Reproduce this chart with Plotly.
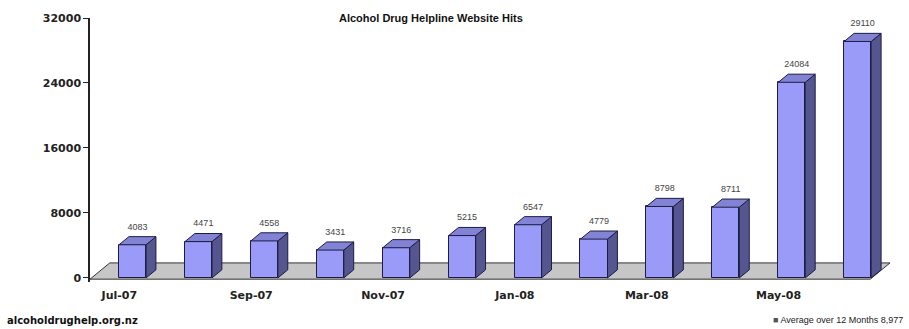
import plotly.graph_objects as go

# Monthly website hits, July 2007 - June 2008
months = ["Jul-07", "Aug-07", "Sep-07", "Oct-07", "Nov-07", "Dec-07",
          "Jan-08", "Feb-08", "Mar-08", "Apr-08", "May-08", "Jun-08"]
hits = [4083, 4471, 4558, 3431, 3716, 5215, 6547, 4779, 8798, 8711, 24084, 29110]
y_ticks = [0, 8000, 16000, 24000, 32000]
title_text = "Alcohol Drug Helpline Website Hits"
source_text = "alcoholdrughelp.org.nz"
average_text = "Average over 12 Months 8,977"

n = len(hits)
xs = list(range(n))

# pseudo-3D geometry (data units)
W = 0.41      # front face width
DX = 0.15     # depth offset along x
DY = 1000     # depth offset along y
X_RANGE = [-0.645, n - 0.51]
Y_RANGE = [-500, 32000]

FRONT = "#9a9af8"
SIDE = "#55558f"
TOP = "#8383d6"
EDGE = "#1c1c44"

fig = go.Figure()

# front faces
fig.add_trace(go.Bar(
    x=xs, y=hits, width=W,
    marker=dict(color=FRONT, line=dict(color=EDGE, width=1)),
    hoverinfo="x+y",
))

# side faces
sx, sy = [], []
for x, v in zip(xs, hits):
    r = x + W / 2
    sx += [r, r + DX, r + DX, r, r, None]
    sy += [0, DY, v + DY, v, 0, None]
fig.add_trace(go.Scatter(
    x=sx, y=sy, mode="lines", fill="toself", fillcolor=SIDE,
    line=dict(color=EDGE, width=1), hoverinfo="skip",
))

# top faces
tx, ty = [], []
for x, v in zip(xs, hits):
    l, r = x - W / 2, x + W / 2
    tx += [l, r, r + DX, l + DX, l, None]
    ty += [v, v, v + DY, v + DY, v, None]
fig.add_trace(go.Scatter(
    x=tx, y=ty, mode="lines", fill="toself", fillcolor=TOP,
    line=dict(color=EDGE, width=1), hoverinfo="skip",
))

# value labels above each bar
fig.add_trace(go.Scatter(
    x=[x + DX / 2 for x in xs], y=[v + DY + 600 for v in hits],
    mode="text", text=[str(v) for v in hits], textposition="top center",
    textfont=dict(family="Liberation Sans", size=9, color="#444444"),
    hoverinfo="skip",
))

# floor slab under the bars
fx0, fx1 = X_RANGE[0], X_RANGE[1]
floor_depth = 0.3
fy0, fy1 = -150, 1850
fig.add_shape(
    type="path", layer="below", xref="x", yref="y",
    path=(f"M {fx0},{fy0} L {fx1 - floor_depth},{fy0} L {fx1},{fy1} "
          f"L {fx0 + floor_depth},{fy1} Z"),
    fillcolor="#c6c6c6", line=dict(color="#333333", width=1),
)

tick_idx = list(range(0, n, 2))
fig.update_xaxes(
    range=X_RANGE, showgrid=False, zeroline=False, showline=False,
    tickmode="array", tickvals=[i - 0.2 for i in tick_idx],
    ticktext=[months[i] for i in tick_idx], ticks="",
    ticklabelstandoff=5,
    tickfont=dict(family="DejaVu Sans", size=11, color="#222222", weight="bold"),
)
fig.update_yaxes(
    range=Y_RANGE, showgrid=False, zeroline=False,
    showline=True, linecolor="#222222", linewidth=1.5,
    ticks="outside", ticklen=5, tickcolor="#222222",
    tickmode="array", tickvals=y_ticks, ticktext=[str(t) for t in y_ticks],
    tickfont=dict(family="DejaVu Sans", size=11, color="#222222", weight="bold"),
)

fig.add_annotation(
    text=f"<b>{title_text}</b>", xref="paper", yref="paper",
    x=0.426, y=1.0, xanchor="center", yanchor="middle", showarrow=False,
    font=dict(family="Liberation Sans", size=11, color="#111111"),
)
fig.add_annotation(
    text=f"<b>{source_text}</b>", xref="paper", yref="paper",
    x=-0.106, y=-0.144, xanchor="left", yanchor="middle", showarrow=False,
    font=dict(family="DejaVu Sans", size=10, color="#111111"),
)
fig.add_annotation(
    text=f"<span style='color:#555555'>&#9632;</span> {average_text}",
    xref="paper", yref="paper",
    x=1.019, y=-0.144, xanchor="right", yanchor="middle", showarrow=False,
    font=dict(family="Liberation Sans", size=9, color="#222222"),
)

fig.update_layout(
    width=909, height=329,
    margin=dict(l=90, r=19, t=18, b=47),
    paper_bgcolor="white", plot_bgcolor="white",
    showlegend=False, bargap=0,
)

fig.write_html("out.html")
